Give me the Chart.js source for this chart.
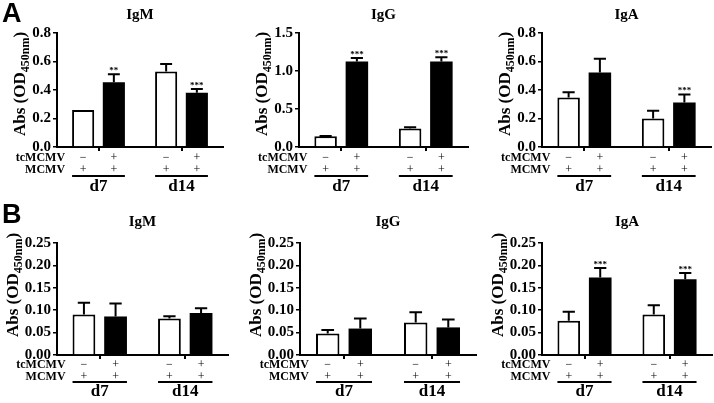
<!DOCTYPE html>
<html>
<head>
<meta charset="utf-8">
<script src="https://cdn.jsdelivr.net/npm/chart.js@4"></script>
<style>
  html, body { margin: 0; padding: 0; background: #fff; }
  #wrap { position: relative; width: 714px; height: 403px; }
  #wrap canvas { position: absolute; left: 0; top: 0; }
</style>
</head>
<body>
<div id="wrap"></div>
<script>
// ---- data ----
const categories = ['d7', 'd14'];
const rowLabels = ['tcMCMV', 'MCMV'];
const tcSigns = ['\u2212', '+'];
const mcmvSigns = ['+', '+'];

const ticks08 = ['0.0', '0.2', '0.4', '0.6', '0.8'];
const ticks15 = ['0.0', '0.5', '1.0', '1.5'];
const ticks025 = ['0.00', '0.05', '0.10', '0.15', '0.20', '0.25'];

// Panel A (white = tcMCMV-, black = tcMCMV+)
const aIgMNeg = [0.26, 0.529];
const aIgMNegErr = [0, 0.054];
const aIgMPos = [0.454, 0.381];
const aIgMPosErr = [0.056, 0.026];
const aIgMStars = ['**', '***'];

const aIgGNeg = [0.141, 0.243];
const aIgGNegErr = [0.005, 0.017];
const aIgGPos = [1.125, 1.125];
const aIgGPosErr = [0.045, 0.055];
const aIgGStars = ['***', '***'];

const aIgANeg = [0.348, 0.2];
const aIgANegErr = [0.036, 0.054];
const aIgAPos = [0.522, 0.313];
const aIgAPosErr = [0.097, 0.056];
const aIgAStars = ['', '***'];

// Panel B
const bIgMNeg = [0.0905, 0.0816];
const bIgMNegErr = [0.026, 0.005];
const bIgMPos = [0.086, 0.094];
const bIgMPosErr = [0.029, 0.0106];
const bIgMStars = ['', ''];

const bIgGNeg = [0.048, 0.0727];
const bIgGNegErr = [0.0076, 0.023];
const bIgGPos = [0.059, 0.0616];
const bIgGPosErr = [0.0226, 0.0174];
const bIgGStars = ['', ''];

const bIgANeg = [0.0764, 0.0905];
const bIgANegErr = [0.020, 0.0205];
const bIgAPos = [0.173, 0.169];
const bIgAPosErr = [0.021, 0.014];
const bIgAStars = ['***', '***'];

// ---- layout ----
const W = 714, H = 403;
const Y_W = 50, X_H = 10;
const SERIF = "'Liberation Serif', 'Times New Roman', serif";
const rowA = { r1: 11, r2: 23, r3: 29, r4: 40, titleDy: 18, yTitleDy: 6, letterY: 1 };
const rowB = { r1: 10, r2: 22, r3: 27, r4: 37, titleDy: 21, yTitleDy: 14, letterY: 202 };

const panels = [
  { title: 'IgM', letter: 'A', neg: aIgMNeg, negErr: aIgMNegErr, pos: aIgMPos, posErr: aIgMPosErr, stars: aIgMStars, ticks: ticks08, box: [57, 223, 33, 147], row: rowA },
  { title: 'IgG', letter: '', neg: aIgGNeg, negErr: aIgGNegErr, pos: aIgGPos, posErr: aIgGPosErr, stars: aIgGStars, ticks: ticks15, box: [299, 468, 33, 147], row: rowA },
  { title: 'IgA', letter: '', neg: aIgANeg, negErr: aIgANegErr, pos: aIgAPos, posErr: aIgAPosErr, stars: aIgAStars, ticks: ticks08, box: [542, 711, 33, 147], row: rowA },
  { title: 'IgM', letter: 'B', neg: bIgMNeg, negErr: bIgMNegErr, pos: bIgMPos, posErr: bIgMPosErr, stars: bIgMStars, ticks: ticks025, box: [57, 228, 243, 355], row: rowB },
  { title: 'IgG', letter: '', neg: bIgGNeg, negErr: bIgGNegErr, pos: bIgGPos, posErr: bIgGPosErr, stars: bIgGStars, ticks: ticks025, box: [300, 476, 243, 355], row: rowB },
  { title: 'IgA', letter: '', neg: bIgANeg, negErr: bIgANegErr, pos: bIgAPos, posErr: bIgAPosErr, stars: bIgAStars, ticks: ticks025, box: [542, 712, 243, 355], row: rowB },
];

// error bars, stars, titles and the tcMCMV/MCMV rows under the axis
const annot = {
  id: 'annot',
  afterDraw(chart, args, o) {
    const ctx = chart.ctx;
    const a = chart.chartArea;
    const ys = chart.scales.y;
    const xs = chart.scales.x;
    ctx.save();
    ctx.fillStyle = '#000';
    ctx.strokeStyle = '#000';

    // error bars + significance stars
    chart.data.datasets.forEach((ds, d) => {
      chart.getDatasetMeta(d).data.forEach((bar, i) => {
        const e = ds.err[i];
        let top = bar.y;
        if (e) {
          top = ys.getPixelForValue(ds.data[i] + e);
          const cap = bar.width * 0.27;
          ctx.lineWidth = 2;
          ctx.beginPath();
          ctx.moveTo(bar.x, bar.y);
          ctx.lineTo(bar.x, top);
          ctx.moveTo(bar.x - cap, top);
          ctx.lineTo(bar.x + cap, top);
          ctx.stroke();
        }
        if (ds.stars[i]) {
          ctx.font = 'bold 9px ' + SERIF;
          ctx.textAlign = 'center';
          ctx.textBaseline = 'alphabetic';
          ctx.fillText(ds.stars[i], bar.x, top - 1);
        }
      });
    });

    // panel title
    ctx.font = 'bold 15px ' + SERIF;
    ctx.textAlign = 'center';
    ctx.textBaseline = 'middle';
    ctx.fillText(o.title, (a.left + a.right) / 2, a.top - o.row.titleDy);

    // y axis title with subscript
    ctx.font = 'bold 15px ' + SERIF;
    const maxW = Math.max(...o.ticks.map(t => ctx.measureText(t).width));
    const cx = a.left - 6 - maxW - 13;
    const cy = (a.top + a.bottom) / 2 - o.row.yTitleDy;
    const mainF = 'bold 17px ' + SERIF, subF = 'bold 12px ' + SERIF;
    ctx.font = mainF; const w1 = ctx.measureText('Abs (OD').width; const w3 = ctx.measureText(')').width;
    ctx.font = subF; const w2 = ctx.measureText('450nm').width;
    ctx.translate(cx, cy);
    ctx.rotate(-Math.PI / 2);
    ctx.textAlign = 'left';
    ctx.textBaseline = 'alphabetic';
    let sx = -(w1 + w2 + w3) / 2;
    ctx.font = mainF; ctx.fillText('Abs (OD', sx, 6); sx += w1;
    ctx.font = subF; ctx.fillText('450nm', sx, 10); sx += w2;
    ctx.font = mainF; ctx.fillText(')', sx, 6);
    ctx.setTransform(1, 0, 0, 1, 0, 0);

    // rows under the x axis
    const b0 = chart.getDatasetMeta(0).data;
    const b1 = chart.getDatasetMeta(1).data;
    const y0 = a.bottom;
    const r = o.row;
    ctx.textBaseline = 'middle';
    ctx.font = 'bold 12px ' + SERIF;
    ctx.textAlign = 'right';
    const lx = b0[0].x - b0[0].width / 2 - 7;
    ctx.fillText(rowLabels[0], lx, y0 + r.r1);
    ctx.fillText(rowLabels[1], lx, y0 + r.r2);
    ctx.textAlign = 'center';
    categories.forEach((c, i) => {
      ctx.font = '12px ' + SERIF;
      ctx.fillText(tcSigns[0], b0[i].x, y0 + r.r1);
      ctx.fillText(tcSigns[1], b1[i].x, y0 + r.r1);
      ctx.fillText(mcmvSigns[0], b0[i].x, y0 + r.r2);
      ctx.fillText(mcmvSigns[1], b1[i].x, y0 + r.r2);
      ctx.lineWidth = 2;
      ctx.beginPath();
      ctx.moveTo(b0[i].x - b0[i].width / 2, y0 + r.r3);
      ctx.lineTo(b1[i].x + b1[i].width / 2, y0 + r.r3);
      ctx.stroke();
      ctx.font = 'bold 17px ' + SERIF;
      ctx.fillText(c, xs.getPixelForValue(i), y0 + r.r4);
    });

    // panel letter
    if (o.letter) {
      ctx.font = "bold 27px 'Liberation Sans', Arial, sans-serif";
      ctx.textAlign = 'left';
      ctx.textBaseline = 'top';
      ctx.fillText(o.letter, 2, r.letterY);
    }
    ctx.restore();
  }
};

const wrap = document.getElementById('wrap');

panels.forEach(p => {
  const canvas = document.createElement('canvas');
  canvas.width = W;
  canvas.height = H;
  wrap.appendChild(canvas);

  new Chart(canvas, {
    type: 'bar',
    data: {
      labels: categories,
      datasets: [
        { data: p.neg, err: p.negErr, stars: ['', ''], backgroundColor: '#fff', borderColor: '#000', borderWidth: 2 },
        { data: p.pos, err: p.posErr, stars: p.stars, backgroundColor: '#000', borderColor: '#000', borderWidth: 0 }
      ]
    },
    options: {
      responsive: false,
      animation: false,
      devicePixelRatio: 1,
      layout: {
        padding: { left: p.box[0] - Y_W, right: W - p.box[1], top: p.box[2], bottom: H - p.box[3] - X_H }
      },
      datasets: { bar: { categoryPercentage: 0.74, barPercentage: 0.72 } },
      plugins: {
        legend: { display: false },
        tooltip: { enabled: false },
        annot: { title: p.title, letter: p.letter, ticks: p.ticks, row: p.row }
      },
      scales: {
        x: {
          offset: true,
          grid: { display: true, offset: false, drawOnChartArea: false, drawTicks: true, tickLength: 4, color: '#000', lineWidth: 2 },
          border: { display: true, color: '#000', width: 2 },
          ticks: { display: false },
          afterFit: s => { s.height = X_H; }
        },
        y: {
          min: 0,
          max: parseFloat(p.ticks[p.ticks.length - 1]),
          grid: { drawOnChartArea: false, drawTicks: true, tickLength: 4, color: '#000', lineWidth: 1.5 },
          border: { display: true, color: '#000', width: 2 },
          ticks: {
            color: '#000',
            padding: 2,
            font: { family: SERIF, weight: 'bold', size: 15 },
            callback: (v, i) => p.ticks[i]
          },
          afterBuildTicks: s => { s.ticks = p.ticks.map(t => ({ value: parseFloat(t) })); },
          afterFit: s => { s.width = Y_W; }
        }
      }
    },
    plugins: [annot]
  });
});
</script>
</body>
</html>
